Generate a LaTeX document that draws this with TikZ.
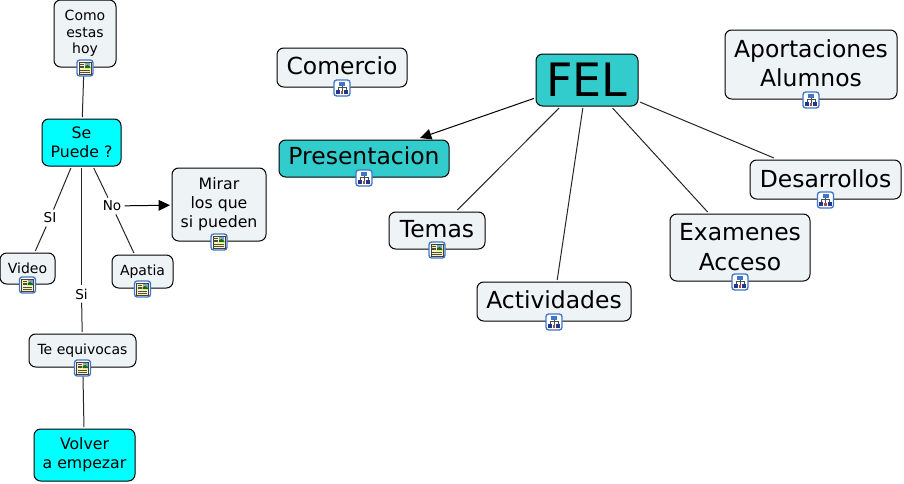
\documentclass[tikz,border=0pt]{standalone}
\usepackage{fontspec}
\setmainfont{DejaVu Sans}
\usetikzlibrary{arrows.meta}
\definecolor{lightbox}{HTML}{EEF3F6}
\definecolor{tealbox}{HTML}{33CCCC}
\definecolor{cyanbox}{HTML}{00FFFF}
\definecolor{iconblue}{HTML}{3F74C8}
\definecolor{iconpaper}{HTML}{FFF4B0}
\definecolor{icondark}{HTML}{24358C}
\newcommand{\fs}[2]{\fontsize{#1}{#2}\selectfont}
\tikzset{
  x=0.75pt,y=-0.75pt,
  cbox/.style n args={2}{draw=black,line width=0.75pt,rounded corners=5pt,inner sep=0pt,outer sep=1.5pt,
    minimum width=#1*0.75pt,minimum height=#2*0.75pt,align=center,text=black},
  light/.style={fill=lightbox},
  teal/.style={fill=tealbox},
  cyan/.style={fill=cyanbox},
  small/.style={font=\fs{10.5pt}{12.5pt}},
  medium/.style={font=\fs{11.8pt}{14.3pt}},
  large/.style={font=\fs{17.6pt}{22pt}},
  huge/.style={font=\fs{34.5pt}{40pt}},
  lbl/.style={font=\fs{10.2pt}{12pt},inner sep=1pt,outer sep=1.5pt,text=black},
  link/.style={draw=black!85,line width=0.75pt},
  arrowlink/.style={draw=black,line width=0.75pt,-{Triangle[length=8.5pt,width=8pt]}},
  icondoc/.pic={
    \draw[iconblue,fill=white,line width=1pt,rounded corners=2pt] (-8,-8) rectangle (8,8);
    \fill[iconpaper] (-5.8,-5.8) rectangle (5.8,6);
    \draw[black!75,line width=0.35pt] (-5.8,-5.8) rectangle (5.8,6);
    \fill[iconblue!70] (0,-5.3) rectangle (5.3,0);
    \fill[green!45!black] (0,-1.5) -- (2.5,-3) -- (5.3,-1) -- (5.3,0) -- (0,0) -- cycle;
    \fill[orange!80] (0.8,-4.5) rectangle (2.4,-3);
    \foreach \yy in {-4,-2.2,-0.4}{\draw[black!70,line width=0.4pt] (-4.8,\yy) -- (-1,\yy);}
    \foreach \yy in {1.8,3.8}{\draw[black!70,line width=0.4pt] (-4.8,\yy) -- (4.8,\yy);}
  },
  icontree/.pic={
    \draw[iconblue,fill=white,line width=1pt,rounded corners=2pt] (-8,-8) rectangle (8,8);
    \draw[black!70,line width=0.45pt] (0,-3) -- (0,3) (-4.2,-1) -- (4.2,-1) (-4.2,-1) -- (-4.2,3) (4.2,-1) -- (4.2,3);
    \fill[iconblue] (-3,-6) rectangle (3,-2.5);
    \fill[icondark] (-6.3,1.5) rectangle (-2.3,5.5);
    \fill[icondark] (2.3,1.5) rectangle (6.3,5.5);
    \fill[red!50!black!70] (-1.2,3) rectangle (1.2,5.5);
  }
}
\begin{document}
\begin{tikzpicture}
\useasboundingbox (0,0) rectangle (904,483);
% concept nodes
\node[cbox={62}{67},light,small]  (como)   at (85,33.5)  {Como\\estas\\hoy};
\node[cbox={79}{47},cyan,medium]  (puede)  at (81.5,142.5){Se\\Puede ?};
\node[cbox={94}{73},light,medium] (mirar)  at (219,204.5){Mirar\\los que\\si pueden};
\node[cbox={55}{31},light,small]  (video)  at (27.5,268.5){Video};
\node[cbox={61}{33},light,small]  (apatia) at (142.5,271.5){Apatia};
\node[cbox={107}{33},light,small] (equiv)  at (82.5,350.5){Te equivocas};
\node[cbox={101}{52},cyan,medium] (volver) at (84.5,455){Volver\\a empezar};
\node[cbox={130}{39},light,large,text depth=2.5pt] (comercio) at (342,67.5){Comercio};
\node[cbox={170}{37},teal,large,text depth=5pt]  (present)  at (364,158.5){Presentacion};
\node[cbox={102}{52},teal,huge,text height=25pt,text depth=0pt]   (fel)      at (587,80){FEL};
\node[cbox={172}{69},light,large,text depth=2.4pt] (aport)    at (811,64.5){Aportaciones\\Alumnos};
\node[cbox={151}{39},light,large,text depth=1.4pt] (desarr)   at (825.5,179.5){Desarrollos};
\node[cbox={140}{67},light,large,text depth=0.8pt] (examen)   at (740,247.5){Examenes\\Acceso};
\node[cbox={96}{37},light,large,text depth=1.6pt]  (temas)    at (437,230.5){Temas};
\node[cbox={154}{39},light,large,text depth=2.5pt] (activ)    at (554,301.5){Actividades};
% connector labels
\node[lbl] (lsi)  at (50,218) {SI};
\node[lbl] (lno)  at (112,206) {No};
\node[lbl] (lsi2) at (81.5,294) {Si};
% connectors
\draw[link] (como) -- (puede);
\draw[link] (puede) -- (lsi);
\draw[link] (lsi) -- (video);
\draw[link] (puede) -- (lno);
\draw[link] (lno) -- (apatia);
\draw[arrowlink] (lno) -- (mirar);
\draw[link] (puede) -- (lsi2);
\draw[link] (lsi2) -- (equiv);
\draw[link] (equiv) -- (volver);
\draw[arrowlink] (fel) -- ([xshift=42pt]present.north);
\draw[link] (fel) -- (temas);
\draw[link] (fel) -- (activ);
\draw[link] (fel) -- (examen);
\draw[link] (fel) -- (desarr);
% icons
\foreach \n in {como,mirar,video,apatia,equiv,temas}{\pic at ([yshift=0.75pt]\n.south) {icondoc};}
\foreach \n in {comercio,present,aport,desarr,examen,activ}{\pic at ([yshift=0.75pt]\n.south) {icontree};}
\end{tikzpicture}
\end{document}
